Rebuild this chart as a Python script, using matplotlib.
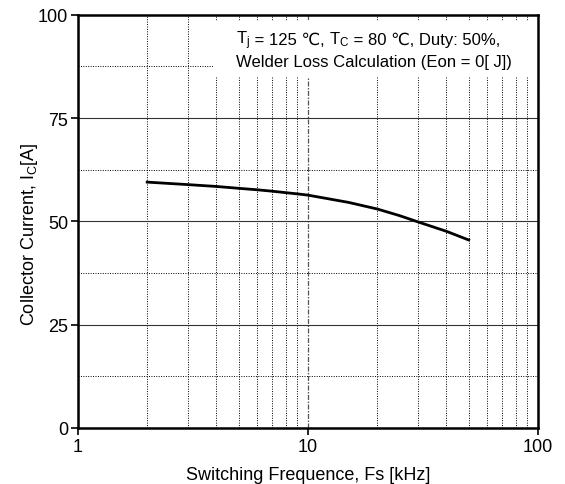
import matplotlib
matplotlib.use("Agg")
import matplotlib.pyplot as plt
from matplotlib.patches import Rectangle
from matplotlib.ticker import LogLocator, MultipleLocator, NullFormatter
from matplotlib.transforms import offset_copy

plt.rcParams['font.family'] = ['Liberation Sans', 'DejaVu Sans']
plt.rcParams['mathtext.fontset'] = 'custom'
plt.rcParams['mathtext.rm'] = 'Liberation Sans'
plt.rcParams['mathtext.it'] = 'Liberation Sans'

# switching frequency [kHz] vs allowed collector current [A]
freq_khz = [2, 3, 4, 5, 6, 7, 8, 9, 10, 15, 20, 25, 30, 40, 50]
current_a = [59.5, 58.9, 58.45, 58.0, 57.65, 57.3, 56.95, 56.65, 56.35, 54.6, 53.0, 51.4,
             49.9, 47.6, 45.5]

y_ticks = [0, 25, 50, 75, 100]

fig = plt.figure(figsize=(5.65, 4.85), dpi=100)
ax = fig.add_axes([0.138, 0.1155, 0.814, 0.852])

ax.set_xscale('log')
ax.set_xlim(1, 100)
ax.set_ylim(0, 100)
ax.set_yticks(y_ticks)
ax.yaxis.set_minor_locator(MultipleLocator(12.5))
ax.xaxis.set_minor_locator(LogLocator(base=10, subs=range(2, 10)))
ax.xaxis.set_minor_formatter(NullFormatter())
ax.set_xticks([1, 10, 100])
ax.set_xticklabels(['1', '10', '100'])

# grid: solid majors on y, dash-dot at 10 kHz, dotted minors
ax.grid(axis='y', which='major', color='#333333', lw=0.8, ls='-')
ax.grid(axis='y', which='minor', color='black', lw=0.7, ls=(0, (1, 1.5)))
ax.grid(axis='x', which='major', color='#555555', lw=0.9, ls=(0, (4, 1.2, 1.2, 1.2)))
ax.grid(axis='x', which='minor', color='black', lw=0.7, ls=(0, (1, 1.5)))
ax.set_axisbelow(True)

ax.tick_params(which='major', direction='out', length=5, width=1.2, labelsize=13,
               pad=2, colors='black')
ax.tick_params(which='minor', length=0)
for s in ax.spines.values():
    s.set_linewidth(1.8)

ax.plot(freq_khz, current_a, color='black', lw=2, zorder=3)

# white panel behind the conditions text
ax.add_patch(Rectangle((0.293, 0.85), 0.707, 0.135, transform=ax.transAxes,
                       facecolor='white', edgecolor='none', zorder=1.5))

# first line is built from pieces so the degree sign can use plain text
pieces = [r'T$_\mathregular{j}$', ' = 125 ℃, ', r'T$_\mathregular{C}$', ' = 80 ℃, Duty: 50%,']
renderer = fig.canvas.get_renderer()
trans = ax.transAxes
for p in pieces:
    t = ax.text(0.343, 0.930, p, transform=trans, fontsize=12, va='baseline',
                ha='left', zorder=4)
    w = t.get_window_extent(renderer).width
    trans = offset_copy(trans, fig=fig, x=w, y=0, units='dots')

ax.text(0.343, 0.877, 'Welder Loss Calculation (Eon = 0[ J])',
        transform=ax.transAxes, fontsize=12, va='baseline', ha='left', zorder=4)

ax.set_xlabel('Switching Frequence, Fs [kHz]', fontsize=13, labelpad=8)
ax.set_ylabel(r'Collector Current, I$_\mathregular{C}$[A]', fontsize=13)
ax.yaxis.set_label_coords(-0.082, 0.472)

fig.savefig('out.png', dpi=100)
